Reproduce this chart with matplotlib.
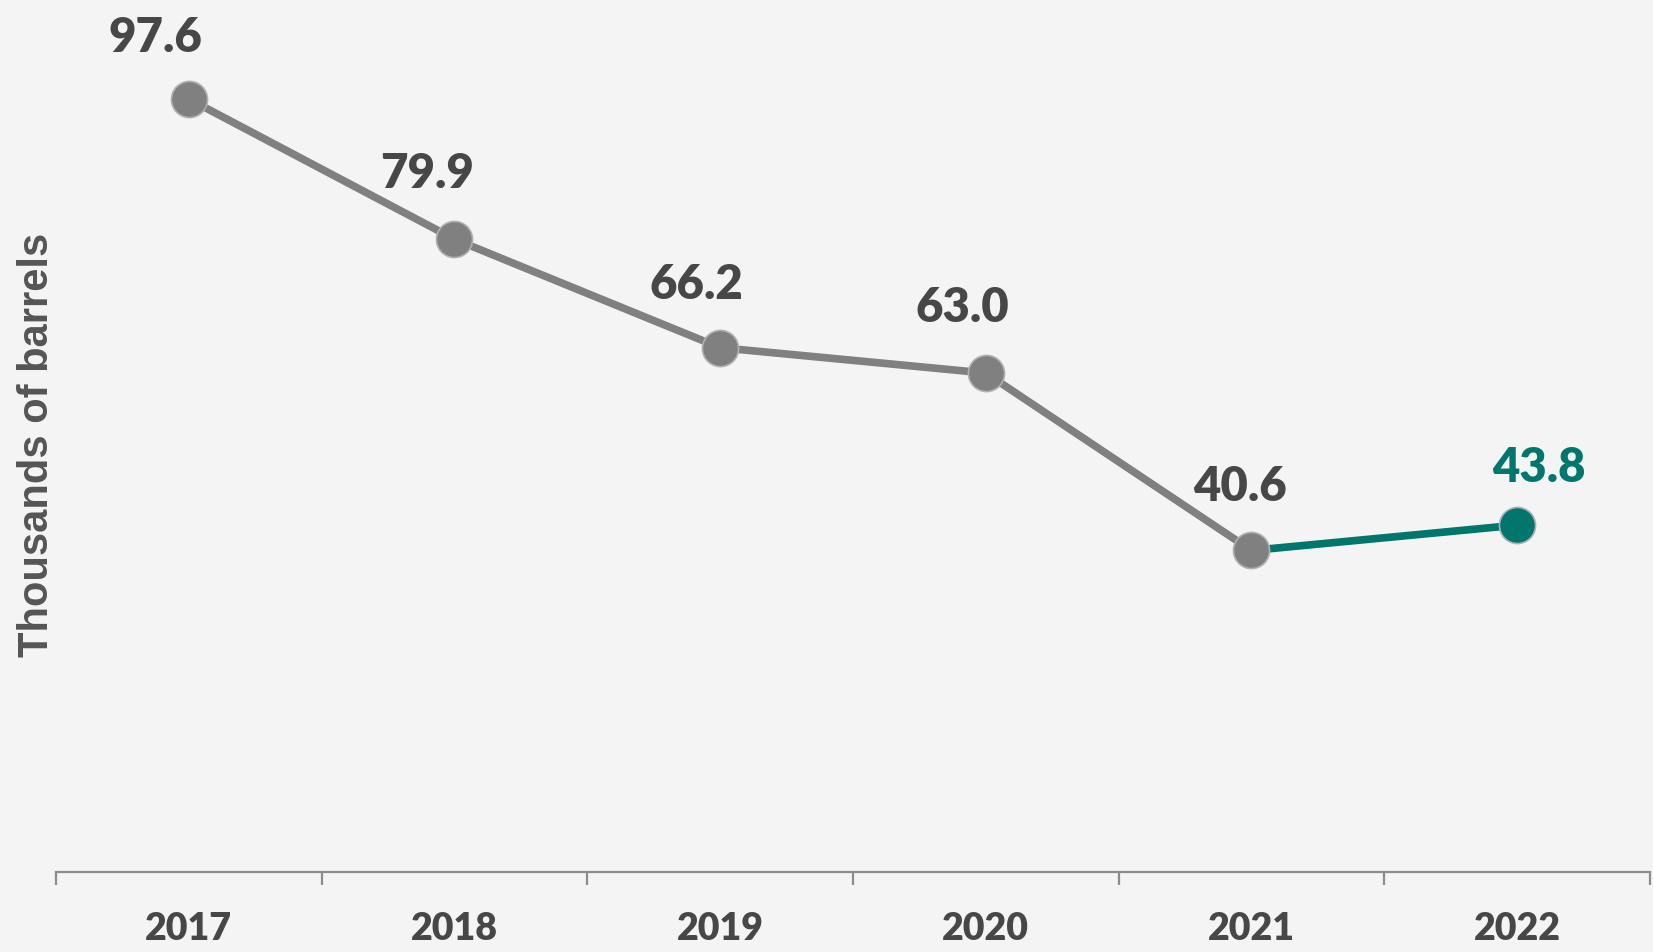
import numpy as np
import matplotlib.pyplot as plt

years = ["2017", "2018", "2019", "2020", "2021", "2022"]
barrels = [97.6, 79.9, 66.2, 63.0, 40.6, 43.8]

GRAY = "#808080"
TEAL = "#00766C"
TEXT = "#474747"
BG = "#F4F4F4"

fig = plt.figure(figsize=(16.53, 9.52), dpi=100, facecolor=BG)
ax = fig.add_axes([56 / 1653, 80 / 952, 1594 / 1653, 872 / 952], facecolor=BG)

x = np.arange(len(years))
y = np.array(barrels)

# gray history, teal for the latest year
ax.plot(x[:-1], y[:-1], color=GRAY, lw=5.5, solid_capstyle="butt", zorder=2)
ax.plot(x[-2:], y[-2:], color=TEAL, lw=5.5, solid_capstyle="butt", zorder=2)

colors = [GRAY] * (len(x) - 1) + [TEAL]
for xi, yi, c in zip(x, y, colors):
    ax.plot(xi, yi, "o", ms=26, color=c, mec="#B0B0B0", mew=1.2, zorder=3)

# data labels, offsets in points
offsets = [(-24, 44), (-20, 47), (-17, 45), (-17, 47), (-8, 46), (16, 41)]
for xi, yi, c, off in zip(x, y, colors, offsets):
    ax.annotate(f"{yi:.1f}", (xi, yi), xytext=off, textcoords="offset points",
                ha="center", va="center", fontsize=34, fontweight="heavy",
                family="Lato", color=TEAL if c == TEAL else TEXT)

ax.set_xlim(-0.5, len(years) - 0.5)
ax.set_ylim(0, 110.1)

for s in ["top", "right", "left"]:
    ax.spines[s].set_visible(False)
ax.spines["bottom"].set_color("#8C8C8C")
ax.spines["bottom"].set_linewidth(1.6)

ax.set_yticks([])
ax.set_xticks(x)
ax.set_xticklabels(years, fontsize=27, fontweight="heavy", family="Lato", color=TEXT)
ax.tick_params(axis="x", which="major", length=0, pad=29)
ax.set_xticks(np.arange(-0.5, len(years)), minor=True)
ax.tick_params(axis="x", which="minor", length=9.5, width=1.6, color="#8C8C8C", direction="out")

fig.text(37 / 1653, 1 - 445 / 952, "Thousands of barrels", rotation=90,
         ha="center", va="center", fontsize=30, fontweight="bold",
         family="Liberation Sans", color="#555555")

fig.savefig("out.png", dpi=100, facecolor=BG)
